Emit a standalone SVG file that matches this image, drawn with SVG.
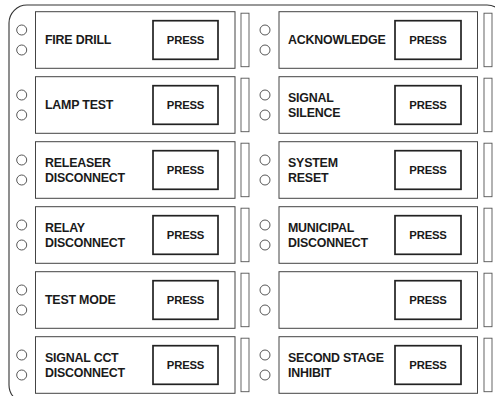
<svg xmlns="http://www.w3.org/2000/svg" width="495" height="396" viewBox="0 0 495 396">
<style>
.panel{fill:none;stroke:#333;stroke-width:1.1}
.box{fill:#fff;stroke:#444;stroke-width:1}
.press{fill:#fff;stroke:#222;stroke-width:1.7}
.slot{fill:#fff;stroke:#555;stroke-width:0.9}
.led{fill:#fff;stroke:#444;stroke-width:0.9}
.lbl{font-family:"Liberation Sans",Arial,sans-serif;font-weight:bold;font-size:12.4px;fill:#1a1a1a;letter-spacing:-0.2px}
.pt{font-family:"Liberation Sans",Arial,sans-serif;font-weight:bold;font-size:11.3px;fill:#1a1a1a;letter-spacing:-0.2px;text-anchor:middle}
</style>
<rect width="495" height="396" fill="#fff"/>
<path class="panel" d="M9,385 V23 A18,18 0 0 1 27,5 H487 A18,18 0 0 1 505,23 V385 A18,18 0 0 1 487,403 H27 A18,18 0 0 1 9,385 Z"/>
<g id="connectors"/>
<defs>
<g id="leftBase">
<circle class="led" cx="21.7" cy="18.3" r="5"/>
<circle class="led" cx="21.7" cy="38.3" r="5"/>
<rect class="box" x="35.5" y="0" width="199.5" height="56.6"/>
<rect class="press" x="153" y="9" width="65" height="38.6"/>
<text class="pt" x="185.5" y="32.8">PRESS</text>
<rect class="slot" x="241" y="1.5" width="8" height="53.5"/>
</g>
<g id="rightBase">
<circle class="led" cx="265" cy="18.3" r="5"/>
<circle class="led" cx="265" cy="38.3" r="5"/>
<rect class="box" x="279" y="0" width="198.5" height="56.6"/>
<rect class="press" x="395" y="9" width="66" height="38.6"/>
<text class="pt" x="428" y="32.8">PRESS</text>
<rect class="slot" x="484" y="1.5" width="8" height="53.5"/>
</g>
</defs>
<g id="fire-drill" transform="translate(0,11.7)"><use href="#leftBase"/><text class="lbl" x="45" y="32.8">FIRE DRILL</text></g>
<g id="lamp-test" transform="translate(0,76.7)"><use href="#leftBase"/><text class="lbl" x="45" y="32.8">LAMP TEST</text></g>
<g id="releaser-disconnect" transform="translate(0,141.7)"><use href="#leftBase"/><text class="lbl" x="45" y="25.5">RELEASER</text><text class="lbl" x="45" y="40.5">DISCONNECT</text></g>
<g id="relay-disconnect" transform="translate(0,206.7)"><use href="#leftBase"/><text class="lbl" x="45" y="25.5">RELAY</text><text class="lbl" x="45" y="40.5">DISCONNECT</text></g>
<g id="test-mode" transform="translate(0,271.7)"><use href="#leftBase"/><text class="lbl" x="45" y="32.8">TEST MODE</text></g>
<g id="signal-cct-disconnect" transform="translate(0,336.7)"><use href="#leftBase"/><text class="lbl" x="45" y="25.5">SIGNAL CCT</text><text class="lbl" x="45" y="40.5">DISCONNECT</text></g>
<g id="acknowledge" transform="translate(0,11.7)"><use href="#rightBase"/><text class="lbl" x="288" y="32.8">ACKNOWLEDGE</text></g>
<g id="signal-silence" transform="translate(0,76.7)"><use href="#rightBase"/><text class="lbl" x="288" y="25.5">SIGNAL</text><text class="lbl" x="288" y="40.5">SILENCE</text></g>
<g id="system-reset" transform="translate(0,141.7)"><use href="#rightBase"/><text class="lbl" x="288" y="25.5">SYSTEM</text><text class="lbl" x="288" y="40.5">RESET</text></g>
<g id="municipal-disconnect" transform="translate(0,206.7)"><use href="#rightBase"/><text class="lbl" x="288" y="25.5">MUNICIPAL</text><text class="lbl" x="288" y="40.5">DISCONNECT</text></g>
<g id="blank" transform="translate(0,271.7)"><use href="#rightBase"/></g>
<g id="second-stage-inhibit" transform="translate(0,336.7)"><use href="#rightBase"/><text class="lbl" x="288" y="25.5">SECOND STAGE</text><text class="lbl" x="288" y="40.5">INHIBIT</text></g>
</svg>
